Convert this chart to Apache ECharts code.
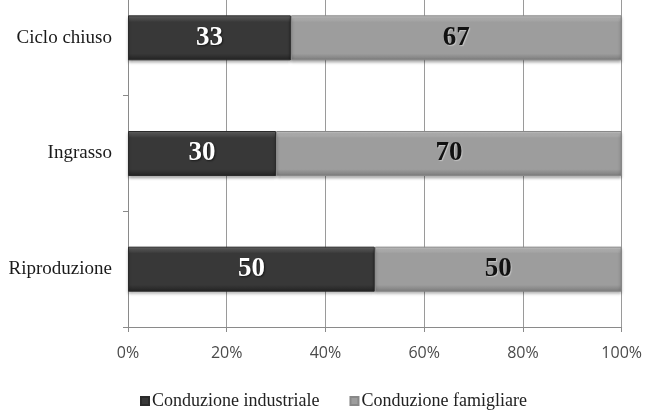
<!DOCTYPE html>
<html>
<head>
<meta charset="utf-8">
<script src="https://cdn.jsdelivr.net/npm/echarts@6/dist/echarts.min.js"></script>
<style>
  html, body { margin: 0; padding: 0; background: #fff; overflow: hidden; }
  #wrap { position: relative; width: 645px; height: 411px; overflow: hidden; }
  /* the plot's top band runs past the upper edge of the page */
  #chart { position: absolute; left: 0; top: -20px; width: 645px; height: 431px; }
</style>
</head>
<body>
<div id="wrap"><div id="chart"></div></div>
<script>
// Share of farms by management type, per production phase (%)
const categories = ['Riproduzione', 'Ingrasso', 'Ciclo chiuso'];
const industriale = [50, 30, 33];
const famigliare = [50, 70, 67];
const seriesNames = ['Conduzione industriale', 'Conduzione famigliare'];
const xTicks = [0, 20, 40, 60, 80, 100];

const serif = '"Liberation Serif", "DejaVu Serif", serif';
const sans = '"Open Sans", "Liberation Sans", sans-serif';

function barGradient(top, mid, bottom) {
  return new echarts.graphic.LinearGradient(0, 0, 0, 1, [
    { offset: 0, color: top },
    { offset: 0.15, color: mid },
    { offset: 0.85, color: mid },
    { offset: 1, color: bottom }
  ]);
}

const chart = echarts.init(document.getElementById('chart'));
chart.setOption({
  animation: false,
  grid: { left: 128, right: 23, top: 0, bottom: 84 },
  xAxis: {
    type: 'value',
    min: 0,
    max: 100,
    interval: 20,
    axisLine: { show: true, lineStyle: { color: '#8a8a8a' } },
    axisTick: { show: true, length: 5, lineStyle: { color: '#8a8a8a' } },
    splitLine: { show: true, lineStyle: { color: '#9a9a9a', width: 1 } },
    axisLabel: {
      margin: 18,
      fontFamily: sans,
      fontSize: 16,
      color: '#4a4a4a',
      formatter: v => xTicks.includes(v) ? v + '%' : ''
    }
  },
  yAxis: {
    type: 'category',
    data: categories,
    axisLine: { show: true, lineStyle: { color: '#8a8a8a' } },
    axisTick: { show: true, length: 5, lineStyle: { color: '#8a8a8a' } },
    axisLabel: {
      margin: 16,
      fontFamily: serif,
      fontSize: 19,
      color: '#1a1a1a'
    }
  },
  legend: {
    top: 407,
    left: 135,
    itemGap: 30,
    itemWidth: 8,
    itemHeight: 8,
    icon: 'rect',
    data: seriesNames,
    textStyle: { fontFamily: serif, fontSize: 18, color: '#222', padding: [0, 0, 0, -2] }
  },
  series: [
    {
      name: seriesNames[0],
      type: 'bar',
      stack: 'tot',
      barWidth: 45,
      data: industriale,
      itemStyle: {
        color: barGradient('#6a6a6a', '#383838', '#222'),
        borderColor: '#2a2a2a',
        borderWidth: 1,
        shadowColor: 'rgba(0,0,0,0.35)',
        shadowBlur: 3,
        shadowOffsetY: 2
      },
      label: {
        show: true,
        position: 'inside',
        fontFamily: serif,
        fontWeight: 'bold',
        fontSize: 27,
        color: '#fff',
        textShadowColor: 'rgba(0,0,0,0.6)',
        textShadowBlur: 2,
        textShadowOffsetX: 1,
        textShadowOffsetY: 1
      }
    },
    {
      name: seriesNames[1],
      type: 'bar',
      stack: 'tot',
      barWidth: 45,
      data: famigliare,
      itemStyle: {
        color: barGradient('#cfcfcf', '#9d9d9d', '#7a7a7a'),
        borderColor: '#888',
        borderWidth: 1,
        shadowColor: 'rgba(0,0,0,0.35)',
        shadowBlur: 3,
        shadowOffsetY: 2
      },
      label: {
        show: true,
        position: 'inside',
        fontFamily: serif,
        fontWeight: 'bold',
        fontSize: 27,
        color: '#111',
        textShadowColor: 'rgba(255,255,255,0.4)',
        textShadowBlur: 1,
        textShadowOffsetX: 1,
        textShadowOffsetY: 1
      }
    }
  ]
});
</script>
</body>
</html>
